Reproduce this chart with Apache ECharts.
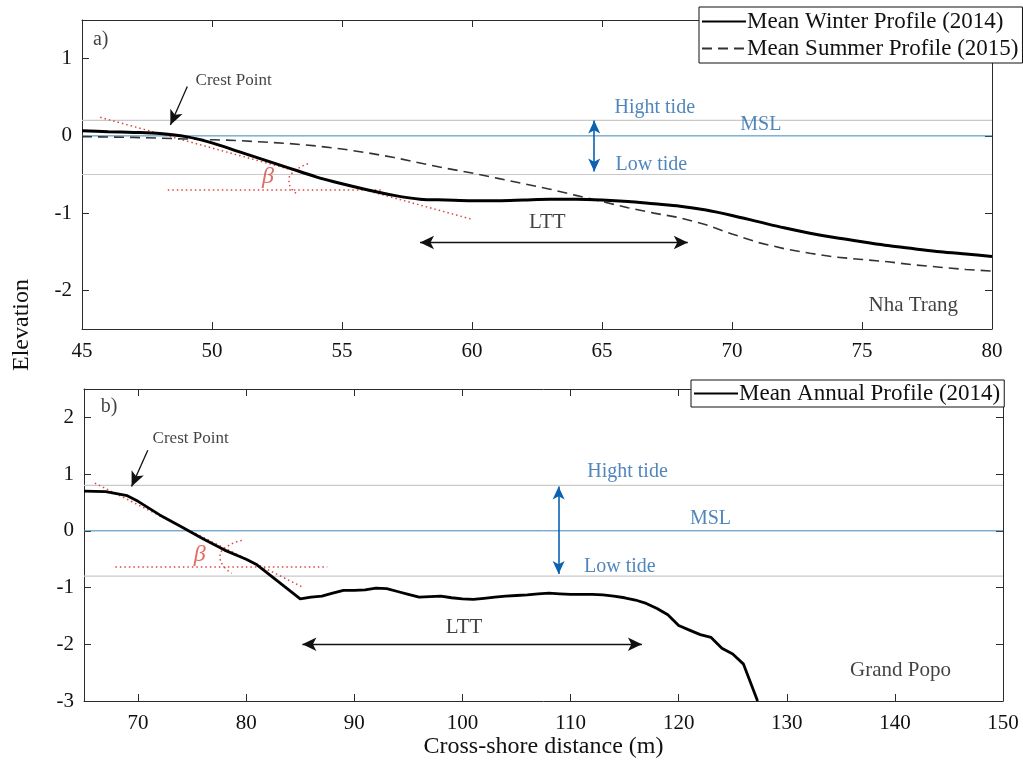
<!DOCTYPE html>
<html><head><meta charset="utf-8">
<script src="https://cdn.jsdelivr.net/npm/echarts@6/dist/echarts.min.js"></script>
<style>html,body{margin:0;padding:0;background:#fff}#c{width:1023px;height:767px}</style>
</head><body><div id="c"></div>
<script>
const FONT = 'Liberation Serif';

// ---------- Panel a) Nha Trang ----------
const distA = [45,46,47,48,49,50,51,52,53,54,55,56,57,58,59,60,61,62,63,64,65,66,67,68,69,70,71,72,73,74,75,76,77,78,79,80];
const winterA = [0.065,0.055,0.045,0.03,-0.01,-0.09,-0.2,-0.31,-0.42,-0.53,-0.62,-0.7,-0.77,-0.82,-0.83,-0.84,-0.84,-0.83,-0.82,-0.82,-0.83,-0.85,-0.88,-0.91,-0.96,-1.03,-1.11,-1.19,-1.26,-1.32,-1.37,-1.42,-1.46,-1.5,-1.53,-1.56];
const summerA = [-0.01,-0.015,-0.02,-0.03,-0.04,-0.05,-0.06,-0.08,-0.1,-0.13,-0.17,-0.22,-0.28,-0.35,-0.42,-0.48,-0.55,-0.62,-0.69,-0.77,-0.85,-0.93,-1.0,-1.06,-1.15,-1.27,-1.38,-1.46,-1.52,-1.57,-1.6,-1.63,-1.67,-1.7,-1.73,-1.75];
const tideA = [0.2, 0, -0.5];           // high tide, MSL, low tide
const slopeA = [[45.7,0.24],[60,-1.08]];
const horizA = [[48.3,-0.7],[56.5,-0.7]];
const arcA = [[53.69,-0.36],[53.2,-0.45],[52.96,-0.57],[53.05,-0.68],[53.27,-0.75]];

// ---------- Panel b) Grand Popo ----------
const distB = [65,67,69,70,72,74,76,78,80,81,82,83,84,85,86,87,88,89,90,91,92,93,94,95,96,97,98,99,100,101,102,103,104,105,106,107,108,109,110,111,112,113,114,115,116,117,118,119,120,121,122,123,124,125,126,127,127.3];
const annualB = [0.7,0.69,0.62,0.52,0.28,0.07,-0.14,-0.34,-0.5,-0.6,-0.75,-0.9,-1.05,-1.2,-1.17,-1.15,-1.1,-1.05,-1.05,-1.04,-1.01,-1.02,-1.07,-1.12,-1.17,-1.16,-1.15,-1.18,-1.2,-1.21,-1.19,-1.17,-1.15,-1.14,-1.13,-1.11,-1.1,-1.11,-1.12,-1.12,-1.12,-1.13,-1.15,-1.18,-1.22,-1.28,-1.37,-1.48,-1.67,-1.75,-1.83,-1.88,-2.07,-2.17,-2.35,-2.85,-3.0];
const tideB = [0.8, 0, -0.8];
const slopeB = [[66,0.84],[85.3,-1.0]];
const horizB = [[67.9,-0.64],[87.5,-0.64]];
const arcB = [[79.59,-0.17],[78.3,-0.27],[77.58,-0.45],[77.9,-0.62],[78.66,-0.75]];

// annotation arrows [[x1,y1],[x2,y2]]
const crestArrowA = [[49.05,0.64],[48.4,0.14]];
const tideArrowA = [[64.7,0.2],[64.7,-0.46]];
const lttArrowA = [[58,-1.38],[68.3,-1.38]];
const crestArrowB = [[70.9,1.42],[69.4,0.78]];
const tideArrowB = [[108.9,0.78],[108.9,-0.76]];
const lttArrowB = [[85.2,-2.0],[116.6,-2.0]];

// annotation labels [x, y, text]
const labelsA = [[45.4,1.24,'a)'],[49.35,0.72,'Crest Point'],[65.46,0.36,'Hight tide'],[70.3,0.14,'MSL'],[65.5,-0.37,'Low tide'],[62.9,-1.12,'LTT'],[75.23,-2.19,'Nha Trang'],[52.15,-0.53,'β']];
const labelsB = [[66.5,2.18,'b)'],[71.3,1.63,'Crest Point'],[111.5,1.04,'Hight tide'],[121,0.21,'MSL'],[111.2,-0.63,'Low tide'],[100.15,-1.7,'LTT'],[135.8,-2.47,'Grand Popo'],[75.7,-0.42,'β']];

const BLUE_TXT = '#2468ab', BLUE_LINE = '#3f86b8', BLUE_ARR = '#0b62b3', RED = '#d9473f', GRAY = '#c9c9c9';
const zip = (xs, ys) => xs.map((x, i) => [x, ys[i]]);

function axisBase(extra) {
  return Object.assign({
    type: 'value',
    axisLine: { show: true, onZero: false, lineStyle: { color: '#2b2b2b', width: 1 } },
    axisTick: { show: true, inside: true, length: 7, lineStyle: { color: '#2b2b2b' } },
    splitLine: { show: false },
    axisLabel: { fontFamily: FONT, fontSize: 21, color: '#111', margin: 12 }
  }, extra);
}
const intOnly = v => (Math.abs(v - Math.round(v)) < 1e-6 ? String(Math.round(v)) : '');
const tenOnly = v => (Math.abs(v % 10) < 1e-6 ? String(v) : '');

function tideSeries(levels, xmin, xmax, xi, yi) {
  return levels.map((lv, i) => ({
    type: 'line', xAxisIndex: xi, yAxisIndex: yi, silent: true, symbol: 'none', z: 1,
    data: [[xmin, lv], [xmax, lv]],
    lineStyle: { color: i === 1 ? BLUE_LINE : GRAY, width: i === 1 ? 1 : 1.2 }
  }));
}
function dotted(pts, xi, yi, smooth) {
  return { type: 'line', xAxisIndex: xi, yAxisIndex: yi, silent: true, symbol: 'none', smooth: !!smooth, z: 2,
    data: pts, lineStyle: { color: RED, width: 1.5, type: [1.5, 3] } };
}
function arrows(list, xi, yi) {
  return { type: 'line', xAxisIndex: xi, yAxisIndex: yi, silent: true, symbol: 'none', data: [], z: 5,
    markLine: { silent: true, animation: false, label: { show: false },
      data: list.map(a => [
        { coord: a.p[0], symbol: a.s[0], symbolSize: a.size, lineStyle: { color: a.c, width: a.w, type: 'solid' } },
        { coord: a.p[1], symbol: a.s[1], symbolSize: a.size }
      ]) } };
}
function labels(list, xi, yi) {
  return { type: 'scatter', xAxisIndex: xi, yAxisIndex: yi, silent: true, symbolSize: 1, z: 6,
    itemStyle: { color: 'rgba(0,0,0,0)' },
    data: list.map(l => {
      const t = l[2];
      let st = { fontFamily: FONT, fontSize: 20, color: '#111', position: 'right', distance: 0 };
      if (t === 'Crest Point') st.fontSize = 17;
      if (t === 'Hight tide' || t === 'MSL' || t === 'Low tide') st.color = BLUE_TXT;
      if (t === 'LTT') { st.position = 'inside'; st.fontSize = 21; }
      if (t === 'Nha Trang' || t === 'Grand Popo') st.fontSize = 21;
      if (t === 'β') { st.position = 'inside'; st.color = RED; st.fontStyle = 'italic'; st.fontSize = 24; }
      return { value: [l[0], l[1]], name: t, label: Object.assign({ show: true, formatter: t }, st) };
    }) };
}

const legendBase = {
  orient: 'vertical', itemWidth: 44, itemHeight: 14, backgroundColor: '#fff',
  borderColor: '#111', borderWidth: 1, borderRadius: 0,
  itemStyle: { opacity: 0 },
  textStyle: { fontFamily: FONT, fontSize: 23, color: '#111', padding: [0, 0, 0, -4] }
};

const chart = echarts.init(document.getElementById('c'), null, { renderer: 'canvas' });
chart.setOption({
  animation: false,
  backgroundColor: '#fff',
  grid: [
    { left: 82, top: 20, width: 910, height: 309 },
    { left: 84, top: 389, width: 919, height: 312 }
  ],
  xAxis: [
    axisBase({ gridIndex: 0, min: 45, max: 80, interval: 5, position: 'bottom' }),
    axisBase({ gridIndex: 0, min: 45, max: 80, interval: 5, position: 'top', axisLabel: { show: false } }),
    axisBase({ gridIndex: 1, min: 65, max: 150, splitNumber: 8, position: 'bottom',
      axisLabel: { fontFamily: FONT, fontSize: 21, color: '#111', margin: 12, formatter: tenOnly },
      name: 'Cross-shore distance (m)', nameLocation: 'middle', nameGap: 30,
      nameTextStyle: { fontFamily: FONT, fontSize: 24, color: '#111', verticalAlign: 'top' } }),
    axisBase({ gridIndex: 1, min: 65, max: 150, splitNumber: 8, position: 'top', axisLabel: { show: false } })
  ],
  yAxis: [
    axisBase({ gridIndex: 0, min: -2.5, max: 1.5, splitNumber: 4, position: 'left',
      axisLabel: { fontFamily: FONT, fontSize: 21, color: '#111', margin: 10, formatter: intOnly } }),
    axisBase({ gridIndex: 0, min: -2.5, max: 1.5, splitNumber: 4, position: 'right', axisLabel: { show: false } }),
    axisBase({ gridIndex: 1, min: -3, max: 2.5, splitNumber: 5, position: 'left',
      axisLabel: { fontFamily: FONT, fontSize: 21, color: '#111', margin: 10, formatter: intOnly } }),
    axisBase({ gridIndex: 1, min: -3, max: 2.5, splitNumber: 5, position: 'right', axisLabel: { show: false } })
  ],
  legend: [
    Object.assign({}, legendBase, { data: ['Mean Winter Profile (2014)', 'Mean Summer Profile (2015)'],
      left: 699, top: 7, padding: [3, 4, 3, 2], itemGap: 4 }),
    Object.assign({}, legendBase, { data: ['Mean Annual Profile (2014)'],
      left: 691, top: 380, padding: [2, 4, 2, 2] })
  ],
  graphic: [
    { type: 'text', x: 22, y: 325, rotation: Math.PI / 2, silent: true,
      style: { text: 'Elevation', fontFamily: FONT, fontSize: 24, fill: '#111', align: 'center', verticalAlign: 'middle' } }
  ],
  series: [
    ...tideSeries(tideA, 45, 80, 0, 0),
    dotted(slopeA, 0, 0), dotted(horizA, 0, 0), dotted(arcA, 0, 0, true),
    { name: 'Mean Summer Profile (2015)', type: 'line', xAxisIndex: 0, yAxisIndex: 0, symbol: 'none', z: 3,
      data: zip(distA, summerA), lineStyle: { color: '#333', width: 1.6, type: [10, 6] }, itemStyle: { color: '#333' } },
    { name: 'Mean Winter Profile (2014)', type: 'line', xAxisIndex: 0, yAxisIndex: 0, symbol: 'none', smooth: 0.3, z: 4,
      data: zip(distA, winterA), lineStyle: { color: '#000', width: 3 }, itemStyle: { color: '#000' } },
    arrows([
      { p: crestArrowA, s: ['none', 'arrow'], size: [10, 15], c: '#111', w: 1.3 },
      { p: tideArrowA, s: ['arrow', 'arrow'], size: [9, 13], c: BLUE_ARR, w: 1.6 },
      { p: lttArrowA, s: ['arrow', 'arrow'], size: [10, 14], c: '#111', w: 1.4 }
    ], 0, 0),
    labels(labelsA, 0, 0),

    ...tideSeries(tideB, 65, 150, 2, 2),
    dotted(slopeB, 2, 2), dotted(horizB, 2, 2), dotted(arcB, 2, 2, true),
    { name: 'Mean Annual Profile (2014)', type: 'line', xAxisIndex: 2, yAxisIndex: 2, symbol: 'none', z: 4,
      data: zip(distB, annualB), lineStyle: { color: '#000', width: 2.8 }, itemStyle: { color: '#000' } },
    arrows([
      { p: crestArrowB, s: ['none', 'arrow'], size: [10, 15], c: '#111', w: 1.3 },
      { p: tideArrowB, s: ['arrow', 'arrow'], size: [9, 13], c: BLUE_ARR, w: 1.6 },
      { p: lttArrowB, s: ['arrow', 'arrow'], size: [10, 14], c: '#111', w: 1.4 }
    ], 2, 2),
    labels(labelsB, 2, 2)
  ]
});
</script></body></html>
